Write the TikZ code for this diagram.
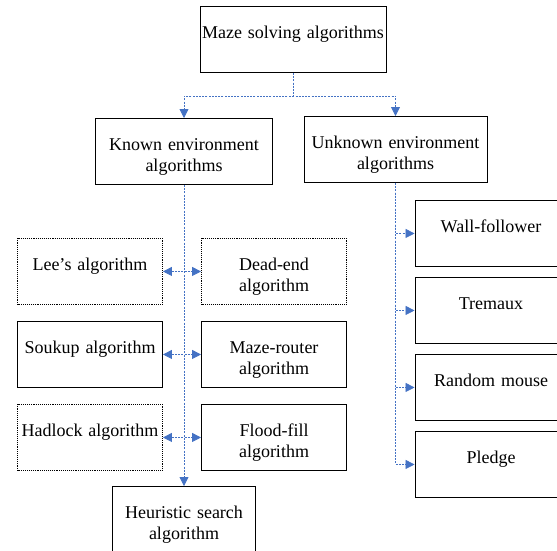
\documentclass[tikz,border=0pt]{standalone}
\usepackage{fontspec}
\setmainfont{Liberation Serif}
\usetikzlibrary{positioning, arrows.meta}
\definecolor{linkblue}{RGB}{68,114,196}

\tikzset{
  box/.style={draw, line width=0.9pt, anchor=north, text width=#1, align=center,
    inner xsep=0pt, inner ysep=0pt, text height=32pt, text depth=34pt,
    font=\fontsize{18}{21}\selectfont},
  dotbox/.style={box=#1, densely dotted},
  link/.style={draw=linkblue, line width=0.8pt, dash pattern=on 2pt off 1.2pt,
    -{Triangle[length=9pt,width=9pt,fill=linkblue]}},
  both/.style={link, {Triangle[length=9pt,width=9pt,fill=linkblue]}-{Triangle[length=9pt,width=9pt,fill=linkblue]}}
}

\begin{document}
\begin{tikzpicture}[x=1pt, y=-1pt]
\clip (0,0) rectangle (557,550);
% top levels
\node[box=186pt] (maze) at (293,6) {Maze solving algorithms};
\node[box=177pt] (known) at (184,118) {Known environment\\algorithms};
\node[box=183pt] (unknown) at (395.5,116) {Unknown environment\\algorithms};

% known environment
\node[dotbox=145pt] (lee) at (90,238) {Lee's algorithm};
\node[dotbox=145pt] (deadend) at (274,238) {Dead-end\\algorithm};
\node[box=145pt] (soukup) at (90,321) {Soukup algorithm};
\node[box=145pt] (router) at (274,321) {Maze-router\\algorithm};
\node[dotbox=145pt] (hadlock) at (90,404) {Hadlock algorithm};
\node[box=145pt] (flood) at (274,404) {Flood-fill\\algorithm};
\node[box=143pt] (heuristic) at (184,486) {Heuristic search\\algorithm};

% unknown environment (boxes run past the right edge)
\node[box=152pt] (wall) at (491,200) {Wall-follower};
\node[box=152pt] (tremaux) at (491,277) {Tremaux};
\node[box=152pt] (mouse) at (491,354) {Random mouse};
\node[box=152pt] (pledge) at (491,431) {Pledge};

% connectors
\coordinate (split) at (293,96);
\draw[link] (maze.south) -- (split) -| (known.north);
\draw[link] (maze.south) -- (split) -| (unknown.north);
\draw[link] (known.south) -- (heuristic.north);
\draw[both] (lee.east) -- (deadend.west);
\draw[both] (soukup.east) -- (router.west);
\draw[both] (hadlock.east) -- (flood.west);
\foreach \n in {wall,tremaux,mouse,pledge}
  \draw[link] (unknown.south) |- (\n.west);
\end{tikzpicture}
\end{document}
